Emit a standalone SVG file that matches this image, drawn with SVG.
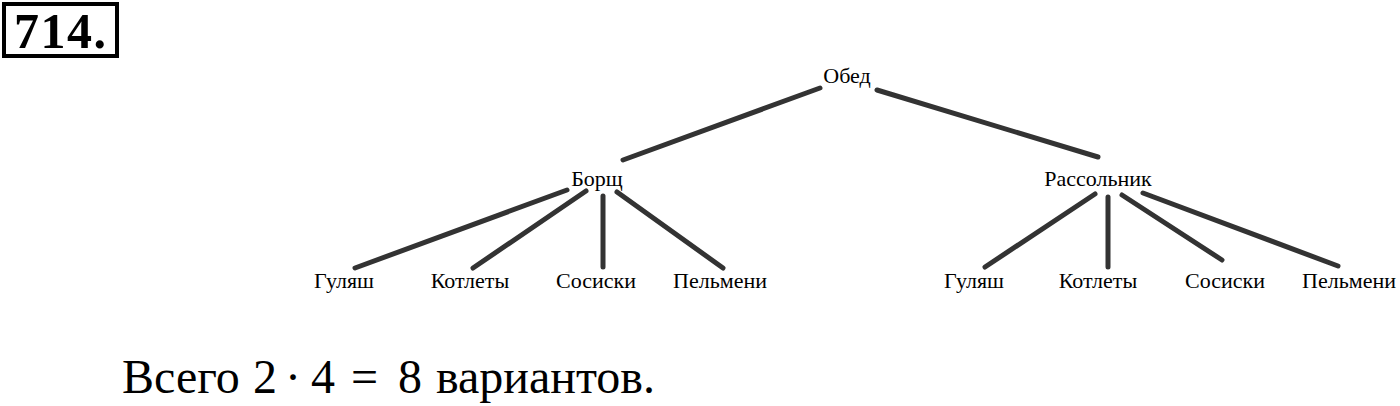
<svg xmlns="http://www.w3.org/2000/svg" width="1400" height="406" viewBox="0 0 1400 406">
<style>
.n{font-family:"Liberation Serif","Times New Roman",serif;font-size:22px;fill:#000;text-anchor:middle}
.e{stroke:#333;stroke-width:5;stroke-linecap:round;fill:none}
.h{font-family:"Liberation Serif","Times New Roman",serif;font-size:50px;font-weight:bold;fill:#000;letter-spacing:1.5px}
.t{font-family:"Liberation Serif",serif;font-size:48px;fill:#000}
</style>
<rect width="1400" height="406" fill="#fff"/>
<g id="header">
<rect x="4" y="4" width="113" height="52" fill="none" stroke="#000" stroke-width="4"/>
<text class="h" x="14" y="48">714.</text>
</g>
<g id="connectors">
<line class="e" x1="820" y1="88" x2="623" y2="160"/>
<line class="e" x1="877" y1="90" x2="1098" y2="157"/>
<line class="e" x1="567" y1="190" x2="355" y2="268"/>
<line class="e" x1="586" y1="191" x2="473" y2="268"/>
<line class="e" x1="603" y1="196" x2="603" y2="267"/>
<line class="e" x1="617" y1="192" x2="723" y2="268"/>
<line class="e" x1="1095" y1="194" x2="985" y2="267"/>
<line class="e" x1="1108" y1="197" x2="1108" y2="267"/>
<line class="e" x1="1122" y1="195" x2="1222" y2="260"/>
<line class="e" x1="1143" y1="193" x2="1338" y2="266"/>
</g>
<g id="obed"><text class="n" x="847" y="83">Обед</text></g>
<g id="borsch"><text class="n" x="597" y="186">Борщ</text></g>
<g id="rassolnik"><text class="n" x="1098" y="186">Рассольник</text></g>
<g id="b-gulyash"><text class="n" x="344" y="288">Гуляш</text></g>
<g id="b-kotlety"><text class="n" x="470" y="288">Котлеты</text></g>
<g id="b-sosiski"><text class="n" x="596" y="288">Сосиски</text></g>
<g id="b-pelmeni"><text class="n" x="720" y="288">Пельмени</text></g>
<g id="r-gulyash"><text class="n" x="974" y="288">Гуляш</text></g>
<g id="r-kotlety"><text class="n" x="1098" y="288">Котлеты</text></g>
<g id="r-sosiski"><text class="n" x="1225" y="288">Сосиски</text></g>
<g id="r-pelmeni"><text class="n" x="1349" y="288">Пельмени</text></g>
<g id="total"><text class="t" y="393"><tspan x="122">Всего</tspan> <tspan x="253">2</tspan> <tspan x="285">·</tspan> <tspan x="311">4</tspan> <tspan x="351">=</tspan> <tspan x="398">8</tspan> <tspan x="436">вариантов.</tspan></text></g>
</svg>
